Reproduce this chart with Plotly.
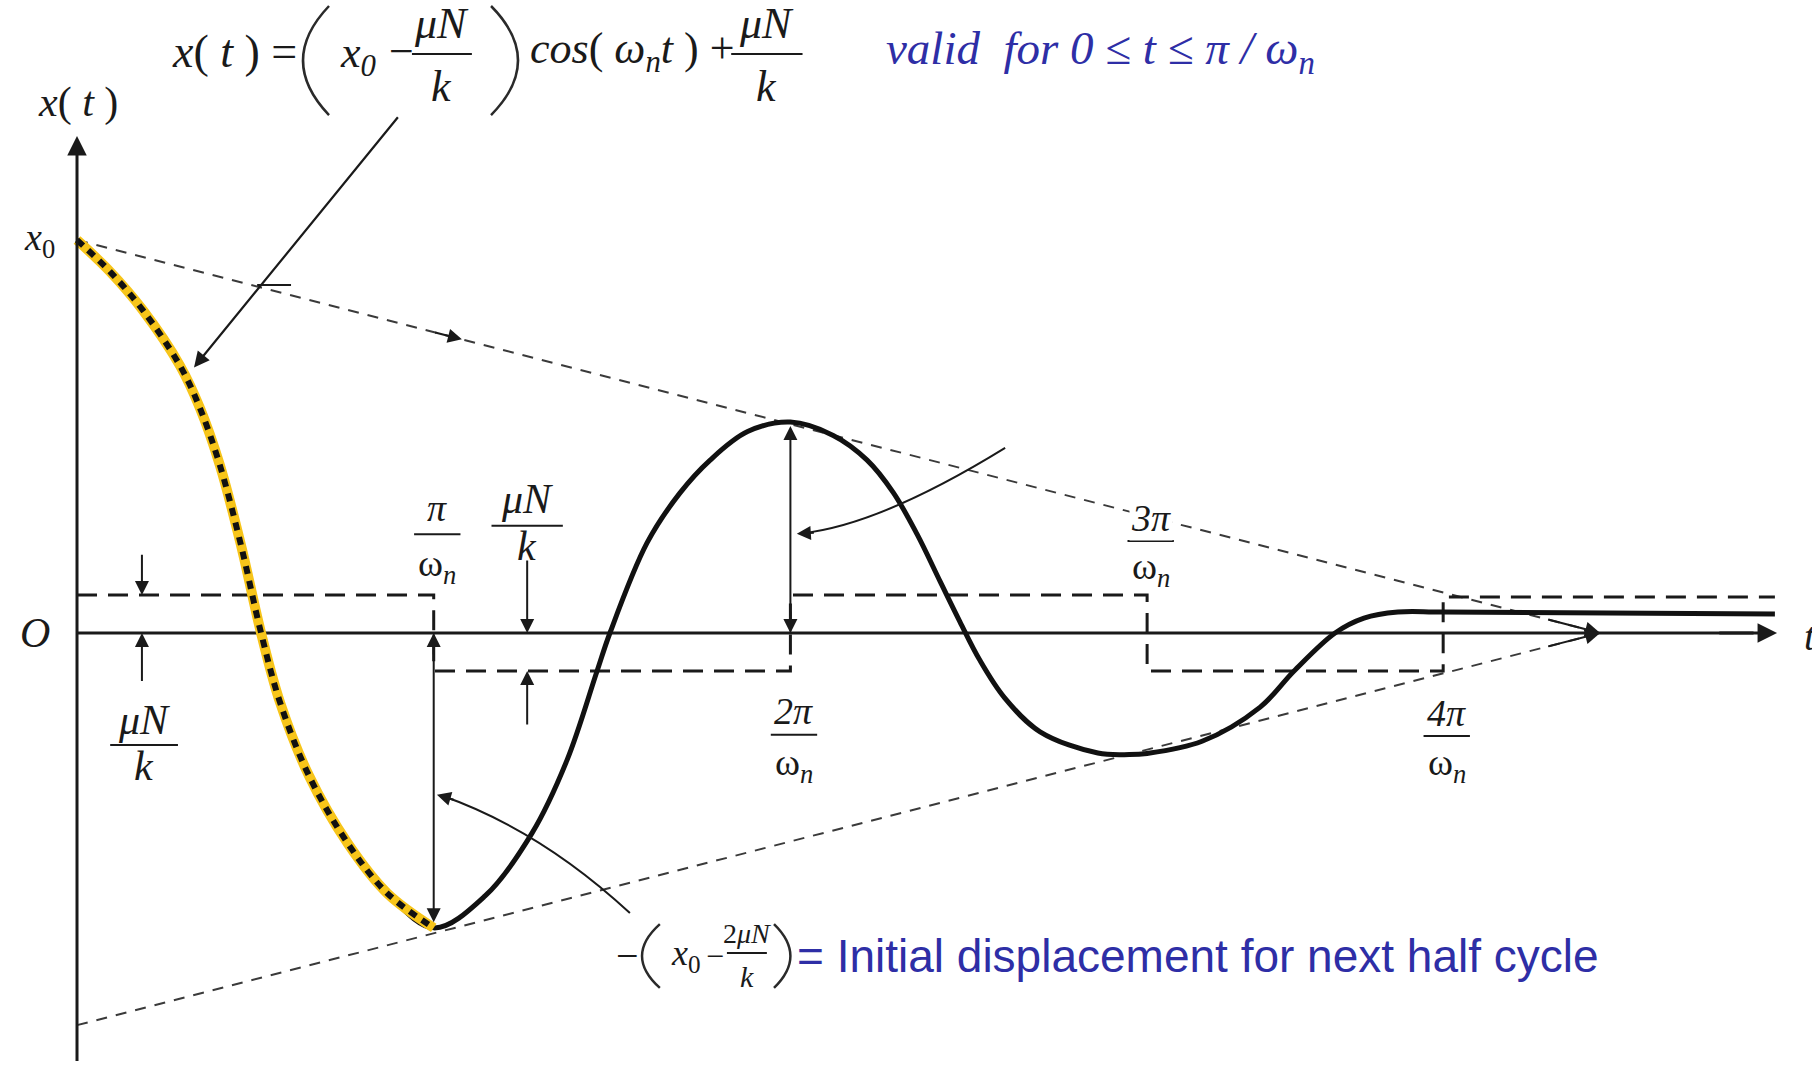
import plotly.graph_objects as go

# Time in units of pi/omega_n, displacement in units of muN/k
curve_t = [0.0, 0.0925, 0.185, 0.289, 0.345, 0.401, 0.46, 0.516, 0.57, 0.65, 0.76, 0.87, 1.0,
           1.144, 1.276, 1.374, 1.458, 1.494, 1.598, 1.69, 1.775, 1.88, 2.0,
           2.12, 2.215, 2.288, 2.355, 2.42, 2.475, 2.53, 2.6, 2.7, 2.862, 2.95, 3.0,
           3.154, 3.317, 3.412, 3.527, 3.608, 3.703, 3.83, 4.76]
curve_x = [10.34, 9.51, 8.49, 7.03, 5.91, 4.40, 2.30, 0.0, -1.85, -3.75, -5.55, -6.85, -7.76,
           -6.92, -5.26, -3.34, -1.0, 0.0, 2.37, 3.68, 4.55, 5.3, 5.55,
           5.2, 4.55, 3.7, 2.6, 1.35, 0.3, -0.7, -1.7, -2.6, -3.16, -3.2, -3.17,
           -2.85, -1.95, -1.0, 0.0, 0.39, 0.55, 0.55, 0.5]
first_half_n = 13  # samples covering 0 <= t <= pi/omega_n

# Friction level +/- muN/k switching every half cycle
step_t = [0.0, 1.0, 2.0, 3.0, 3.83, 4.76]
step_x = [1.0, -1.0, 1.0, -1.0, 0.95, 0.95]

# Linear decay envelopes
env_t = [0.0, 4.27]
env_upper = [10.34, 0.0]
env_lower = [-10.32, 0.0]

# Half-cycle tick positions and labels
tick_t = [1.0, 2.0, 3.0, 3.83]
tick_num = ["π", "2π", "3π", "4π"]
tick_num_y = [3.29, -2.05, 3.03, -2.10]
tick_bar_y = [2.60, -2.68, 2.42, -2.71]
tick_den_y = [1.76, -3.47, 1.68, -3.47]

X_RANGE = [-0.2159, 4.864]
Y_RANGE = [-11.395, 16.658]

SERIF = "Liberation Serif, Times New Roman, serif"
SANS = "Liberation Sans, Arial, sans-serif"
INK = "#1a1a1a"
BLUE = "#2e2ea6"

fig = go.Figure()

# envelopes
for ys in (env_upper, env_lower):
    fig.add_trace(go.Scatter(x=env_t, y=ys, mode="lines",
                             line=dict(color="#3a3a3a", width=2, dash="11px,9px"),
                             hoverinfo="skip", showlegend=False))

# friction step levels
fig.add_trace(go.Scatter(x=step_t, y=step_x, mode="lines",
                         line=dict(color=INK, width=3, dash="20px,11px", shape="hv"),
                         hoverinfo="skip", showlegend=False))

# t axis
fig.add_trace(go.Scatter(x=[0, 4.70], y=[0, 0], mode="lines",
                         line=dict(color=INK, width=3), hoverinfo="skip", showlegend=False))

# full response
fig.add_trace(go.Scatter(x=curve_t, y=curve_x, mode="lines",
                         line=dict(color="#111111", width=5, shape="spline", smoothing=1.0),
                         hoverinfo="skip", showlegend=False))

# first half cycle highlighted
fig.add_trace(go.Scatter(x=curve_t[:first_half_n], y=curve_x[:first_half_n], mode="lines",
                         line=dict(color="#f7c51a", width=10, shape="spline", smoothing=1.0),
                         hoverinfo="skip", showlegend=False))
fig.add_trace(go.Scatter(x=curve_t[:first_half_n], y=curve_x[:first_half_n], mode="lines",
                         line=dict(color="#111111", width=6, dash="8px,7px", shape="spline", smoothing=1.0),
                         hoverinfo="skip", showlegend=False))

annotations = []
shapes = []


def arrow(xh, yh, xt, yt, width=2.0, size=1.3, color=INK):
    annotations.append(dict(x=xh, y=yh, ax=xt, ay=yt, xref="x", yref="y", axref="x", ayref="y",
                            text="", showarrow=True, arrowhead=2, arrowsize=size,
                            arrowwidth=width, arrowcolor=color, standoff=0, startstandoff=0))


def label(x, y, text, size, color=INK, family=SERIF, xanchor="center", bg=None):
    ann = dict(x=x, y=y, xref="x", yref="y", text=text, showarrow=False,
               xanchor=xanchor, yanchor="middle",
               font=dict(family=family, size=size, color=color))
    if bg:
        ann["bgcolor"] = bg
    annotations.append(ann)


def frac(x, y_num, y_bar, y_den, num, den, half_w, size, den_size=None, color=INK, bg=None):
    label(x, y_num, num, size, color, bg=bg)
    label(x, y_den, den, den_size or size, color)
    shapes.append(dict(type="line", xref="x", yref="y", x0=x - half_w, x1=x + half_w,
                       y0=y_bar, y1=y_bar, line=dict(color=color, width=2)))


def paren(x_tip, x_bulge, y_top, y_bot, width=2.5):
    # quadratic arc whose mid point reaches x_bulge
    ctrl = 2 * x_bulge - x_tip
    shapes.append(dict(type="path", xref="x", yref="y",
                       path=f"M {x_tip},{y_top} Q {ctrl},{(y_top + y_bot) / 2} {x_tip},{y_bot}",
                       line=dict(color="#2a2a2a", width=width)))


# x axis arrowhead and y axis with arrow
arrow(4.766, 0, 4.60, 0, width=3, size=1.3)
arrow(0, 13.08, 0, -11.30, width=3, size=1.3)

# envelope arrowheads
arrow(env_t[1], 0, 4.12, env_upper[0] * (1 - 4.12 / env_t[1]), width=2, size=1.5)
arrow(env_t[1], 0, 4.12, env_lower[0] * (1 - 4.12 / env_t[1]), width=2, size=1.5)
arrow(1.079, env_upper[0] * (1 - 1.079 / env_t[1]), 1.0, env_upper[0] * (1 - 1.0 / env_t[1]), width=2, size=1.4)

# amplitude markers at pi and 2pi
arrow(1.0, curve_x[12] + 0.15, 1.0, 0, width=2, size=1.4)
arrow(1.0, 0, 1.0, -0.6, width=2, size=1.4)
arrow(2.0, curve_x[22] - 0.1, 2.0, 0, width=2, size=1.4)
arrow(2.0, 0, 2.0, 0.6, width=2, size=1.4)

# muN/k gap markers
arrow(0.182, 1.0, 0.182, 2.1, width=2, size=1.4)
arrow(0.182, 0, 0.182, -1.3, width=2, size=1.4)
arrow(1.262, 0, 1.262, 1.95, width=2, size=1.4)
arrow(1.262, -1.0, 1.262, -2.45, width=2, size=1.4)

# pointer to the first half cycle
arrow(0.328, 6.99, 0.903, 13.61, width=2.2, size=1.4)
shapes.append(dict(type="line", xref="x", yref="y", x0=0.505, x1=0.60, y0=9.16, y1=9.16,
                   line=dict(color=INK, width=2)))

# curved pointers
shapes.append(dict(type="path", xref="x", yref="y",
                   path="M 2.602,4.87 Q 2.251,2.84 2.03,2.62",
                   line=dict(color=INK, width=2)))
arrow(2.018, 2.61, 2.07, 2.64, width=2, size=1.4)
shapes.append(dict(type="path", xref="x", yref="y",
                   path="M 1.55,-7.37 Q 1.298,-5.18 1.02,-4.27",
                   line=dict(color=INK, width=2)))
arrow(1.009, -4.26, 1.06, -4.40, width=2, size=1.4)

# axis labels
label(0.003, 13.97, "<i>x</i>( <i>t</i> )", 42)
label(-0.104, 10.34, "<i>x</i><sub>0</sub>", 38)
label(-0.118, 0.0, "<i>O</i>", 42)
label(4.835, -0.08, "<i>t</i>", 40, xanchor="left")

# half-cycle tick fractions
for t, n, yn, yb, yd in zip(tick_t, tick_num, tick_num_y, tick_bar_y, tick_den_y):
    frac(t + 0.01, yn, yb, yd, f"<i>{n}</i>", "ω<sub><i>n</i></sub>", 0.065, 38,
         bg="white" if n == "3π" else None)

# muN/k labels
frac(1.262, 3.53, 2.82, 2.30, "<i>μN</i>", "<i>k</i>", 0.10, 42)
frac(0.188, -2.29, -2.95, -3.50, "<i>μN</i>", "<i>k</i>", 0.095, 42)

# governing equation for the first half cycle
label(0.622, 15.29, "<i>x</i>( <i>t</i> ) =", 46, xanchor="right")
paren(0.7065, 0.6336, 16.5, 13.63)
label(0.788, 15.21, "<i>x</i><sub><i>0</i></sub>", 44)
label(0.911, 15.29, "−", 44)
frac(1.023, 16.05, 15.24, 14.37, "<i>μN</i>", "<i>k</i>", 0.084, 44)
paren(1.1607, 1.2363, 16.5, 13.63)
label(1.556, 15.29, "<i>cos</i>( <i>ω<sub>n</sub>t</i> ) +", 44)
frac(1.934, 16.05, 15.24, 14.37, "<i>μN</i>", "<i>k</i>", 0.10, 44)
label(2.262, 15.29, "<i>valid  for 0 ≤ t ≤ π / ω<sub>n</sub></i>", 47, color=BLUE, xanchor="left")

# initial displacement of the next half cycle
label(1.542, -8.50, "−", 40)
paren(1.634, 1.584, -7.66, -9.34, width=2.5)
label(1.707, -8.50, "<i>x</i><sub>0</sub>", 36)
label(1.789, -8.50, "−", 32)
frac(1.878, -7.92, -8.42, -9.03, "2<i>μN</i>", "<i>k</i>", 0.056, 28, den_size=30)
paren(1.954, 2.0, -7.66, -9.34, width=2.5)
label(2.013, -8.50, "= Initial displacement for next half cycle", 46, color=BLUE, family=SANS,
      xanchor="left")

fig.update_layout(
    width=1812, height=1066,
    margin=dict(l=0, r=0, t=0, b=0),
    paper_bgcolor="white", plot_bgcolor="white",
    xaxis=dict(range=X_RANGE, visible=False, fixedrange=True),
    yaxis=dict(range=Y_RANGE, visible=False, fixedrange=True),
    annotations=annotations, shapes=shapes, showlegend=False,
)

fig.write_html("out.html")
